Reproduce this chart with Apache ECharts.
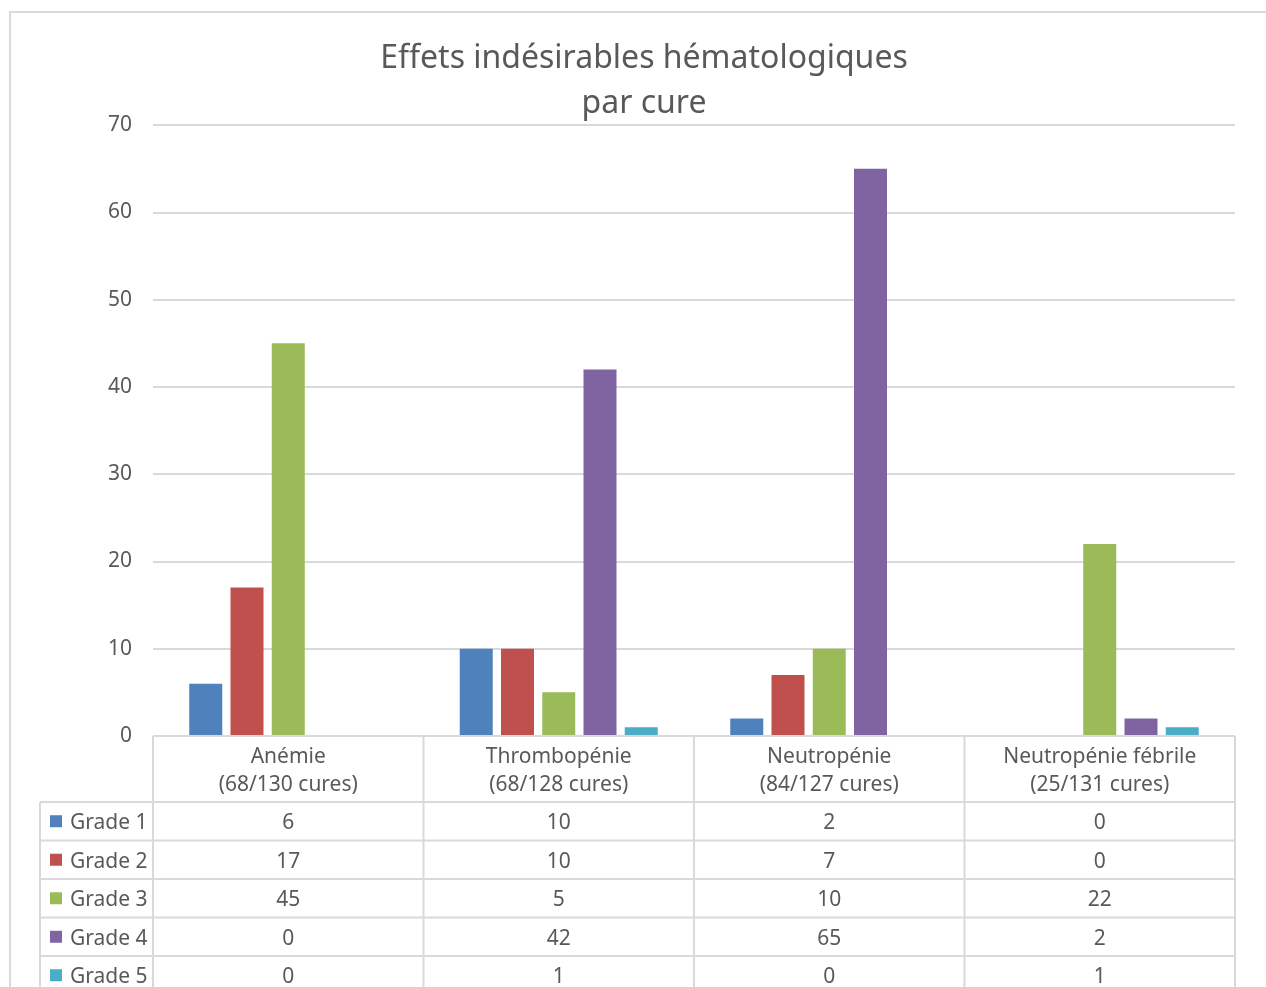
<!DOCTYPE html>
<html><head><meta charset="utf-8">
<script src="https://cdn.jsdelivr.net/npm/echarts@6/dist/echarts.min.js"></script>
<style>html,body{margin:0;padding:0;background:#fff}#c{width:1266px;height:987px}</style>
</head><body><div id="c"></div>
<script>
const titleText = 'Effets indésirables hématologiques\npar cure';
const categories = ['Anémie\n(68/130 cures)', 'Thrombopénie\n(68/128 cures)', 'Neutropénie\n(84/127 cures)', 'Neutropénie fébrile\n(25/131 cures)'];
const seriesNames = ['Grade 1', 'Grade 2', 'Grade 3', 'Grade 4', 'Grade 5'];
const grade1 = [6, 10, 2, 0];
const grade2 = [17, 10, 7, 0];
const grade3 = [45, 5, 10, 22];
const grade4 = [0, 42, 65, 2];
const grade5 = [0, 1, 0, 1];
const seriesData = [grade1, grade2, grade3, grade4, grade5];
const colors = ['#4F81BD', '#C0504D', '#9BBB59', '#8064A2', '#4BACC6'];
const yMin = 0, yMax = 70, yInterval = 10;

const FONT = 'Noto Sans';
const TXT = '#595959';
const LINE = '#d9d9d9';

const chart = echarts.init(document.getElementById('c'), null, {renderer: 'canvas'});
chart.setOption({
  animation: false,
  color: colors,
  title: {
    text: titleText,
    left: 644, top: 36, textAlign: 'center', padding: 0,
    textStyle: {fontFamily: FONT, fontSize: 32, fontWeight: 'normal', color: TXT, lineHeight: 45}
  },
  grid: {left: 153, right: 31, top: 125, bottom: 251, containLabel: false},
  xAxis: {
    type: 'category', data: categories,
    axisLine: {show: false}, axisTick: {show: false},
    axisLabel: {fontFamily: FONT, fontSize: 21, color: TXT, lineHeight: 28, margin: 7, interval: 0}
  },
  yAxis: {
    type: 'value', min: yMin, max: yMax, interval: yInterval,
    axisLine: {show: false}, axisTick: {show: false},
    axisLabel: {fontFamily: FONT, fontSize: 21, color: TXT, margin: 21, padding: [4, 0, 0, 0]},
    splitLine: {lineStyle: {color: LINE, width: 2}}
  },
  series: seriesNames.map((n, i) => ({
    name: n, type: 'bar', data: seriesData[i],
    barWidth: 33, barGap: '25%',
    itemStyle: {color: colors[i]}
  }))
});

function buildTable() {
  const xs = categories.map((c, i) => chart.convertToPixel({xAxisIndex: 0}, i));
  const band = xs[1] - xs[0];
  const x0 = xs[0] - band / 2, x1 = xs[xs.length - 1] + band / 2;
  const y0 = chart.convertToPixel({yAxisIndex: 0}, 0);
  const headerH = 66, rowH = 38.5, legendLeft = 40;
  const nRows = seriesData.length;
  const yEnd = y0 + headerH + nRows * rowH;
  const elems = [];
  elems.push({type: 'rect', shape: {x: 10, y: 12, width: 1400, height: 1100}, style: {fill: 'none', stroke: LINE, lineWidth: 2}, silent: true, z: 0});
  const line = (xa, ya, xb, yb) => elems.push({type: 'line', shape: {x1: xa, y1: ya, x2: xb, y2: yb}, style: {stroke: LINE, lineWidth: 2}, silent: true, z: 5});
  line(x0, y0, x1, y0);
  for (let r = 0; r <= nRows; r++) { const y = y0 + headerH + r * rowH; line(legendLeft, y, x1, y); }
  for (let i = 0; i <= categories.length; i++) { const x = x0 + i * band; line(x, y0, x, yEnd); }
  line(legendLeft, y0 + headerH, legendLeft, yEnd);
  for (let r = 0; r < nRows; r++) {
    const cy = y0 + headerH + r * rowH + rowH / 2;
    elems.push({type: 'rect', shape: {x: 50, y: cy - 6, width: 12, height: 12}, style: {fill: colors[r]}, silent: true, z: 6});
    elems.push({type: 'text', x: 70, y: cy + 2, style: {text: seriesNames[r], fontFamily: FONT, fontSize: 21, fill: TXT, align: 'left', verticalAlign: 'middle'}, silent: true, z: 6});
    for (let c = 0; c < categories.length; c++) {
      elems.push({type: 'text', x: xs[c], y: cy + 2, style: {text: String(seriesData[r][c]), fontFamily: FONT, fontSize: 21, fill: TXT, align: 'center', verticalAlign: 'middle'}, silent: true, z: 6});
    }
  }
  chart.setOption({graphic: {elements: elems}});
}
buildTable();
</script>
</body></html>
